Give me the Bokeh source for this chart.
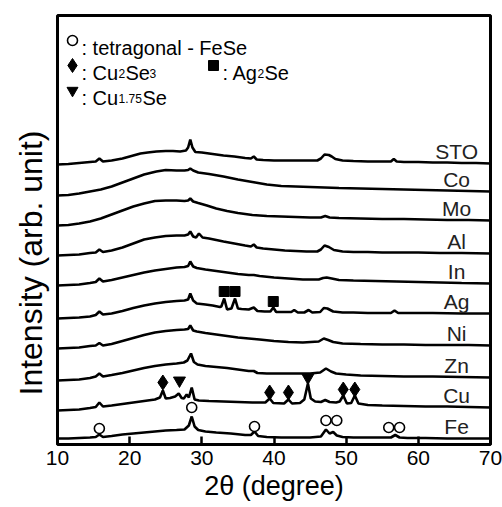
from bokeh.plotting import figure
from bokeh.models import FixedTicker, Title
from bokeh.core.properties import value
from bokeh.embed import file_html
from bokeh.resources import INLINE

FONT = "Liberation Sans"

# ---------------- data ----------------
samples = ["STO", "Co", "Mo", "Al", "In", "Ag", "Ni", "Zn", "Cu", "Fe"]
offsets = [281, 253, 224, 191, 161, 131, 99, 67, 37, 6]

sto_2t = [10, 11.5, 13, 14.5, 15.3, 15.8, 16.3, 17.5, 19, 20.5, 21.5, 22.5, 23.7, 25, 26, 27, 27.8, 28.1, 28.4, 28.7,
          29.1, 30, 31, 32, 33, 34.5, 36, 36.8, 37.2, 37.6, 38.5, 40, 41.5, 43, 44.5, 46, 46.5, 47.0, 47.6, 48.0,
          48.5, 49.5, 51, 53, 55, 56.2, 56.6, 57.0, 58, 60, 62, 64, 66, 68, 70]
sto_i = [-1, -0.5, 0.5, 1.5, 2, 5, 2, 3, 5, 8, 10, 11, 12, 12.5, 12.5, 12, 13, 16, 24, 16,
         11.5, 11, 10, 9, 8, 7, 5.5, 5, 7, 4, 3.5, 3, 3, 3, 3, 3, 5, 9, 8.5, 7,
         4.5, 3, 2.5, 2, 2, 2, 4.5, 2, 1.5, 1.5, 1, 1, 0.5, 0.5, 0]

co_2t = [10, 11.5, 13, 14.5, 16, 17.5, 19, 20.5, 22, 23.7, 25, 26.5, 27.6, 28.1, 28.4, 28.8, 29.5, 31, 33, 35,
         37, 39, 41, 43, 45, 47, 49, 52, 55, 58, 61, 64, 67, 70]
co_i = [-4, -3.5, -2, 0, 2, 5, 9, 13, 17, 20, 21.5, 21, 21, 21.5, 23, 21, 19, 17.5, 15, 12,
        9.5, 7, 5.5, 5, 4.5, 4, 3.5, 3, 2.5, 2, 1.5, 1, 0.5, 0]

mo_2t = [10, 11.5, 13, 14.5, 16, 17.5, 19, 20.5, 22, 23.5, 25, 26.5, 27.6, 28.1, 28.4, 28.8, 29.5, 30.7, 32, 33.5,
         35, 37, 39, 41, 43, 45, 46.5, 47.1, 47.7, 49, 52, 55, 58, 61, 64, 67, 70]
mo_i = [-5, -4.5, -3, -1, 2, 6, 10, 14, 17, 19.5, 20, 20, 19.5, 20, 22, 19, 17.5, 15, 12, 9.5,
        7.5, 5.5, 4.5, 4, 3.5, 3, 3, 4.5, 3, 2.5, 2, 1.5, 1.5, 1, 0.5, 0.5, 0]

al_2t = [10, 11.5, 13, 14.5, 15.3, 15.8, 16.3, 17.5, 19, 20.5, 22, 23.5, 25, 26.5, 27.6, 28.1, 28.4, 28.8, 29.2, 29.6,
         30.1, 31, 32, 33, 34.5, 36, 36.8, 37.2, 37.6, 38.5, 40, 41.5, 43, 44.5, 46, 46.5, 47.0, 47.6, 48.3, 49.5,
         51, 53, 55, 57, 60, 63, 66, 70]
al_i = [-2, -1.5, -1, 0.5, 1, 4, 1.5, 3, 6, 10, 14, 16, 17.5, 18, 18, 19, 22, 17, 16, 20,
        16, 15, 13.5, 12, 10, 8, 7, 9, 6, 5, 4, 3, 2.5, 2, 2, 4, 8, 6.5, 3.5, 2,
        1.5, 1.5, 1, 1, 1, 0.5, 0.5, 0]

in_2t = [10, 11.5, 13, 14.5, 15.3, 15.8, 16.3, 17.5, 19, 20.5, 22, 23.5, 25, 26.5, 27.6, 28.1, 28.4, 28.8, 29.3, 30.5,
         32, 33.5, 35, 36.5, 37.2, 38, 40, 42, 44, 46.2, 46.8, 47.3, 48, 49, 51, 54, 57, 60, 63, 66, 70]
in_i = [-2, -1.5, -1, 0.5, 1.5, 5, 2, 3.5, 6, 8.5, 11, 13, 14.5, 16, 16.5, 17.5, 22, 17, 15.5, 14,
        12.5, 11, 9.5, 8.5, 8.5, 7.5, 6, 5, 4, 4, 5.5, 6, 5, 3.5, 3, 2.5, 2, 1.5, 1, 0.5, 0]

ag_2t = [10, 11.5, 13, 14.5, 15.3, 15.8, 16.3, 17.5, 19, 20.5, 22, 23.5, 25, 26.5, 27.6, 28.1, 28.4, 28.8, 29.3, 30.5,
         31.5, 32.5, 32.7, 33.1, 33.5, 34.1, 34.6, 35.0, 35.5, 36.5, 37.2, 37.7, 38.7, 39.5, 39.9, 40.3, 41.5, 42.4,
         42.8, 43.3, 44.2, 44.8, 45.3, 46.4, 46.9, 47.4, 48.2, 49.5, 51, 53, 55, 56.2, 56.7, 57.2, 59, 62, 66, 70]
ag_i = [-5, -4.5, -4, -3, -1.5, 2, -1, 0, 2.5, 5.5, 8, 10, 11.5, 12.5, 13, 14, 20, 13, 10, 9,
        8, 6.5, 7, 15, 4, 5, 15, 5, 4.5, 4, 6, 2.5, 2, 2, 6, 1.5, 1.5, 1.5,
        3.5, 1, 1, 3.5, 1, 1.5, 5.5, 5, 2, 1, 1, 0.5, 0.5, 0.5, 3, 0.5, 0.5, 0.5, 0, 0]

ni_2t = [10, 11.5, 13, 14.5, 15.3, 15.8, 16.3, 17.5, 19, 20.5, 22, 23.5, 25, 26.5, 27.6, 28.1, 28.4, 28.8, 29.3, 30.5,
         32, 33.5, 35, 36.5, 38, 40, 42, 44, 46.2, 46.9, 47.5, 48.2, 49.5, 52, 55, 58, 61, 64, 67, 70]
ni_i = [-3, -2.5, -2, -0.5, 0, 2.5, 0, 1.5, 4.5, 7.5, 10.5, 13, 14.5, 15.5, 16, 16.5, 20, 15, 14, 12.5,
        11, 9.5, 8, 7, 6, 4.5, 3.5, 3, 4, 7, 5.5, 3.5, 2, 1.5, 1, 1, 0.5, 0.5, 0.5, 0]

zn_2t = [10, 11.5, 13, 14.5, 15.3, 15.8, 16.3, 17.5, 19, 20.5, 22, 23.5, 25, 26.5, 27.5, 28.0, 28.5, 28.9, 29.4, 30.5,
         32, 33.5, 35, 36.5, 37.2, 37.7, 39, 41, 43, 45, 46.4, 47.2, 47.9, 48.6, 50, 52, 55, 58, 62, 66, 70]
zn_i = [-3, -2.5, -2, -0.5, 1, 4, 1, 2.5, 4.5, 7, 9.5, 11.5, 13, 14, 15, 17, 24, 15.5, 13, 11.5,
        10.5, 9.5, 8, 6.5, 6.5, 4.5, 4, 4, 4, 4, 5, 9, 6, 4, 3, 2, 1.5, 1, 1, 0.5, 0]

cu_2t = [10, 11.5, 13, 14.5, 15.3, 15.8, 16.3, 17.5, 19, 20.5, 22, 23.5, 24.2, 24.6, 25.0, 25.6, 26.3, 26.8, 27.2, 27.5,
         27.9, 28.2, 28.6, 29.0, 29.6, 31, 33, 35, 37, 38.8, 39.4, 39.9, 41.4, 42.0, 42.5, 43.6, 44.2, 44.7, 45.1, 45.7,
         46.5, 47.1, 47.7, 48.6, 49.1, 49.6, 50.1, 50.7, 51.2, 51.7, 53, 55, 58, 61, 64, 67, 70]
cu_i = [-3, -2.5, -2, -0.5, 0.5, 5, 1, 2, 3.5, 5, 6.5, 8, 10, 17, 9, 9.5, 11, 14, 9.5, 9,
        13, 10, 20, 8, 7, 6.5, 6, 5.5, 5, 5, 9, 4.5, 4, 8, 4, 4.5, 8, 24, 9, 6,
        5.5, 7.5, 5.5, 5, 6, 12, 4, 4.5, 12, 4, 2.5, 2, 1.5, 1, 1, 0.5, 0]

fe_2t = [10, 11.5, 13, 14.5, 15.3, 15.8, 16.3, 17.5, 19, 20.5, 22, 23.5, 25, 26.5, 27.6, 28.2, 28.6, 29.0, 29.5, 30.5,
         32, 34, 36, 36.8, 37.3, 37.8, 39, 41, 43, 45, 46.5, 47.2, 47.7, 48.2, 48.7, 49.5, 51, 53, 55, 56.2,
         56.8, 57.4, 58.5, 61, 64, 67, 70]
fe_i = [0, 0, 0.5, 1, 1.5, 4, 1.5, 2.5, 4, 5, 6, 7, 8, 8.5, 9, 13, 22, 12, 8.5, 7,
        6, 5, 3.5, 3.5, 7, 2.5, 1.5, 1, 1, 1, 2, 9, 5, 6.5, 3, 1.5, 1, 1, 1, 1,
        3.5, 1, 0.5, 0.5, 0, 0, 0]

traces = {"STO": (sto_2t, sto_i), "Co": (co_2t, co_i), "Mo": (mo_2t, mo_i), "Al": (al_2t, al_i),
          "In": (in_2t, in_i), "Ag": (ag_2t, ag_i), "Ni": (ni_2t, ni_i), "Zn": (zn_2t, zn_i),
          "Cu": (cu_2t, cu_i), "Fe": (fe_2t, fe_i)}

# phase markers (2theta, height above the trace baseline)
fese_2t = [15.8, 28.6, 37.3, 47.2, 48.7, 55.9, 57.4]
fese_h = [10, 31, 12, 18, 18, 11, 11]
cu2se3_2t = [24.6, 39.4, 42.0, 49.6, 51.2]
cu2se3_h = [25, 15, 15, 18, 18]
cu175se_2t = [26.9, 44.7]
cu175se_h = [27, 30]
ag2se_2t = [33.1, 34.6, 39.9]
ag2se_h = [22, 22, 12]

xticks = [10, 20, 30, 40, 50, 60, 70]

# ---------------- figure ----------------
p = figure(width=502, height=507, x_range=(10, 70), y_range=(0, 429),
           output_backend="svg", toolbar_location=None,
           min_border_left=57, min_border_right=12, min_border_top=15, min_border_bottom=63,
           background_fill_color="white", border_fill_color="white")
p.grid.visible = False
p.outline_line_color = "black"
p.outline_line_width = 3

xa = p.xaxis[0]
xa.ticker = FixedTicker(ticks=xticks)
xa.major_tick_in = 8
xa.major_tick_out = 0
xa.major_tick_line_width = 2.5
xa.minor_tick_line_color = None
xa.axis_line_color = None
xa.major_label_text_font = FONT
xa.major_label_text_font_size = "21px"
xa.major_label_text_color = "black"
xa.major_label_standoff = 6
xa.axis_label = "2θ (degree)"
xa.axis_label_text_font = FONT
xa.axis_label_text_font_size = "27px"
xa.axis_label_text_font_style = "normal"
xa.axis_label_text_color = "black"
xa.axis_label_standoff = 3

ya = p.yaxis[0]
ya.ticker = FixedTicker(ticks=[])
ya.axis_line_color = None
ya.major_tick_line_color = None
ya.minor_tick_line_color = None
ya.major_label_text_font_size = "0px"
ya.major_label_standoff = 0
ya.major_tick_out = 0
ya.major_tick_in = 0

# y title in the left panel, starting 49 px above the frame bottom like the original
p.add_layout(Title(text="Intensity (arb. unit)", align="left", offset=49, standoff=17,
                   text_font=FONT, text_font_size="32px", text_font_style="normal",
                   text_color="black"), "left")

# traces
off = dict(zip(samples, offsets))
for name in samples:
    xs, ys = traces[name]
    p.line(xs, [v + off[name] for v in ys], line_color="black", line_width=2.6)

# sample labels
p.text(x=[65.3] * len(samples), y=[o + 12 for o in offsets], text=samples,
       text_font=value(FONT), text_font_size="21px", text_color="#222222",
       text_align="center", text_baseline="middle")

# phase markers on traces
p.scatter(fese_2t, [h + off["Fe"] for h in fese_h], marker="circle", size=10,
          fill_color="white", line_color="black", line_width=1.6)
p.scatter(cu2se3_2t, [h + off["Cu"] for h in cu2se3_h], marker="diamond", size=15,
          fill_color="black", line_color="black")
p.scatter(cu175se_2t, [h + off["Cu"] for h in cu175se_h], marker="inverted_triangle", size=12,
          fill_color="black", line_color="black")
p.scatter(ag2se_2t, [h + off["Ag"] for h in ag2se_h], marker="square", size=10,
          fill_color="black", line_color="black")


# ---------------- legend (top-left, inside frame) ----------------
def px2deg(px):
    return 10 + (px - 57) / (433 / 60)


def py2y(py):
    return 444 - py


rows = [40, 65, 90]
p.scatter([px2deg(72)], [py2y(rows[0])], marker="circle", size=10, fill_color="white",
          line_color="black", line_width=1.6)
p.scatter([px2deg(72)], [py2y(rows[1])], marker="diamond", size=14, fill_color="black", line_color="black")
p.scatter([px2deg(213)], [py2y(rows[1])], marker="square", size=10, fill_color="black", line_color="black")
p.scatter([px2deg(72)], [py2y(rows[2])], marker="inverted_triangle", size=11, fill_color="black",
          line_color="black")

big = [(": tetragonal - FeSe", 81, rows[0]), (": Cu", 81, rows[1]), ("Se", 125, rows[1]),
       (": Ag", 222, rows[1]), ("Se", 264, rows[1]), (": Cu", 81, rows[2]), ("Se", 142, rows[2])]
small = [("2", 118, rows[1]), ("3", 149, rows[1]), ("2", 257, rows[1]), ("1.75", 118, rows[2])]
p.text(x=[px2deg(b[1]) for b in big], y=[py2y(b[2] + 7) for b in big], text=[b[0] for b in big],
       text_font=value(FONT), text_font_size="20px", text_color="black",
       text_align="left", text_baseline="alphabetic")
p.text(x=[px2deg(s[1]) for s in small], y=[py2y(s[2] + 8) for s in small], text=[s[0] for s in small],
       text_font=value(FONT), text_font_size="12px", text_color="black",
       text_align="left", text_baseline="alphabetic")

open("out.html", "w").write(file_html(p, INLINE))
